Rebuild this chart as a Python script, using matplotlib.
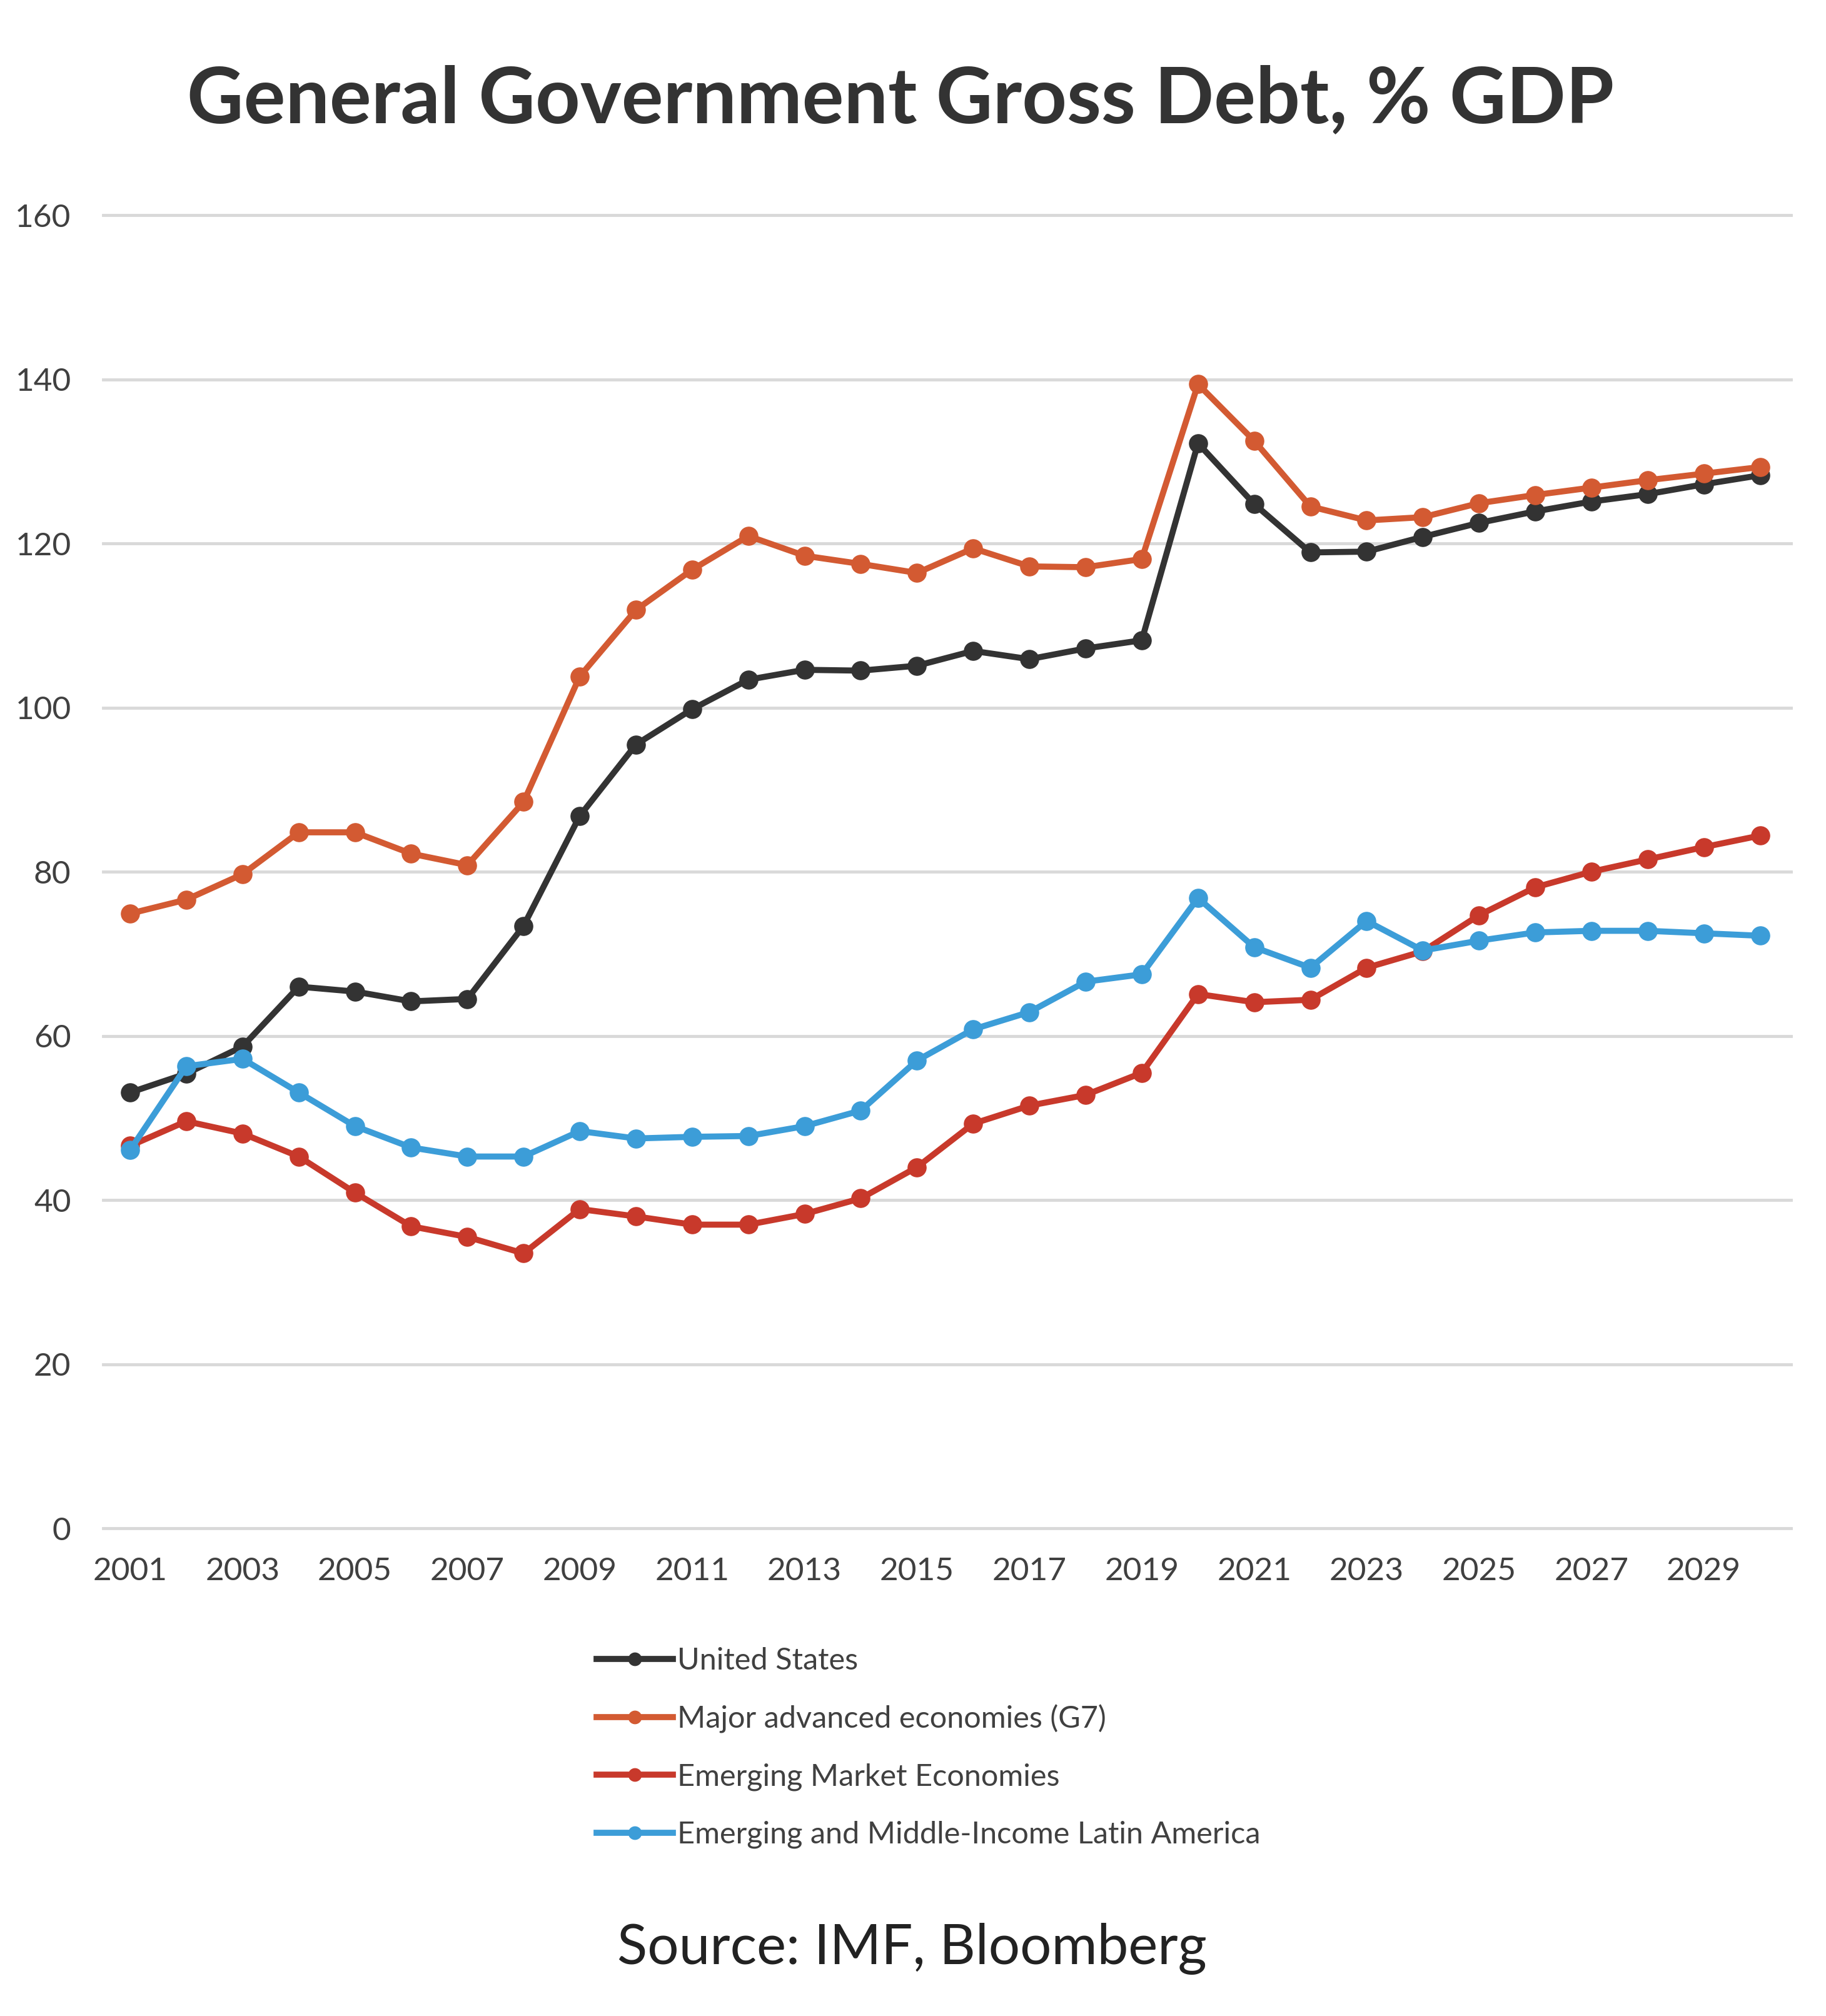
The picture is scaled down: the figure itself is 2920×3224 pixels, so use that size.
import matplotlib
matplotlib.use('Agg')
import matplotlib.pyplot as plt

plt.rcParams['font.family'] = ['Lato', 'DejaVu Sans']

years = list(range(2001, 2031))
tick_years = list(range(2001, 2030, 2))
y_ticks = [0, 20, 40, 60, 80, 100, 120, 140, 160]

us = [53.1, 55.4, 58.7, 66.0, 65.4, 64.2, 64.5, 73.4, 86.8, 95.5,
      99.8, 103.4, 104.6, 104.5, 105.1, 106.9, 105.9, 107.2, 108.2, 132.2,
      124.8, 118.9, 119.0, 120.8, 122.5, 123.9, 125.1, 126.0, 127.2, 128.3]
g7 = [74.9, 76.6, 79.7, 84.8, 84.8, 82.2, 80.8, 88.5, 103.8, 111.9,
      116.8, 120.9, 118.5, 117.5, 116.4, 119.4, 117.2, 117.1, 118.1, 139.4,
      132.5, 124.5, 122.8, 123.2, 124.9, 125.9, 126.8, 127.7, 128.5, 129.3]
eme = [46.6, 49.6, 48.1, 45.3, 40.9, 36.8, 35.5, 33.5, 38.9, 38.0,
       37.0, 37.0, 38.3, 40.2, 44.0, 49.3, 51.5, 52.8, 55.5, 65.1,
       64.1, 64.4, 68.3, 70.3, 74.7, 78.1, 80.0, 81.5, 83.0, 84.4]
latam = [46.1, 56.3, 57.2, 53.1, 49.0, 46.4, 45.3, 45.3, 48.4, 47.5,
         47.7, 47.8, 49.0, 50.9, 57.0, 60.8, 62.9, 66.6, 67.5, 76.8,
         70.8, 68.3, 74.0, 70.4, 71.6, 72.6, 72.8, 72.8, 72.5, 72.2]

series = [
    ('United States', us, '#333333'),
    ('Major advanced economies (G7)', g7, '#D35A32'),
    ('Emerging Market Economies', eme, '#C8392B'),
    ('Emerging and Middle-Income Latin America', latam, '#3C9DD8'),
]

fig = plt.figure(figsize=(29.2, 32.24), dpi=100)
ax = fig.add_axes([0.0565, 0.2419, 0.9243, 0.6514])

for name, vals, col in series:
    ax.plot(years, vals, color=col, lw=7, marker='o', ms=21,
            label=name, solid_joinstyle='round')

ax.set_xlim(2000.52, 2030.55)
ax.set_ylim(0, 160)
ax.set_yticks(y_ticks)
ax.set_xticks(tick_years)
ax.set_xticklabels([str(y) for y in tick_years])
ax.tick_params(axis='both', length=0, labelsize=37, labelcolor='#404040')
ax.tick_params(axis='y', pad=37)
ax.tick_params(axis='x', pad=33)
ax.grid(axis='y', color='#D9D9D9', lw=3.5)
ax.set_axisbelow(True)
for gl in ax.get_ygridlines():
    gl.set_clip_on(False)
for s in ax.spines.values():
    s.set_visible(False)

fig.legend(loc='center left', bbox_to_anchor=(954 / 2920, 1 - 2795 / 3224),
           frameon=False, fontsize=35, labelcolor='#404040',
           handlelength=2.5, handletextpad=0.15, labelspacing=0.98,
           borderpad=0, borderaxespad=0, markerscale=0.7)

fig.text(0.4932, 1 - 196 / 3224, 'General Government Gross Debt, % GDP',
         ha='center', va='baseline', fontsize=90, fontweight='bold',
         color='#333333')
fig.text(1458 / 2920, 1 - 3141 / 3224, 'Source: IMF, Bloomberg',
         ha='center', va='baseline', fontsize=64, fontweight='normal',
         color='#222222')

fig.savefig('out.png', dpi=100, facecolor='white')
